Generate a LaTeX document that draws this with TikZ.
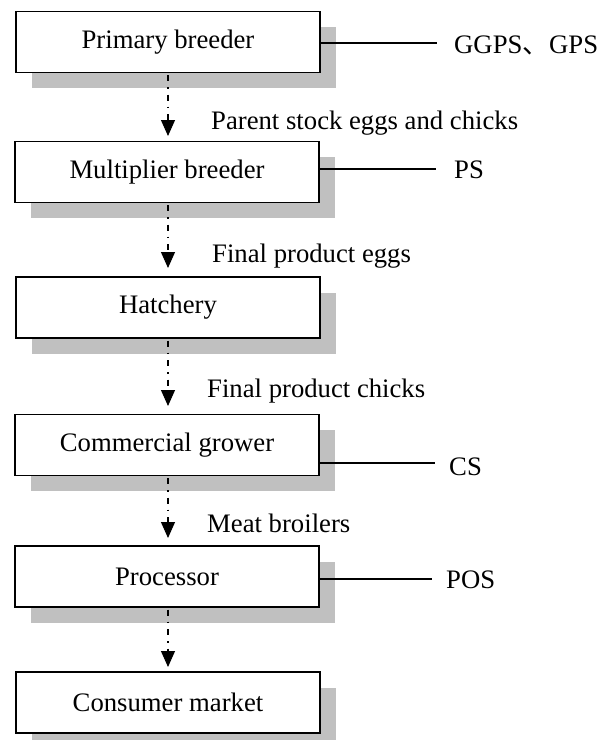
\documentclass[tikz,border=0pt]{standalone}
\usepackage{fontspec}
\setmainfont{Liberation Serif}
\newfontfamily\cjk{Noto Sans CJK SC}
\usetikzlibrary{arrows.meta,shadows}
\definecolor{shadowgray}{RGB}{192,192,192}
\begin{document}
\begin{tikzpicture}[x=1pt,y=-1pt,
  stagebox/.style={draw=black, line width=1.3pt, fill=white,
    minimum width=304pt, minimum height=61pt, inner sep=0pt,
    font=\fontsize{26.7}{30}\selectfont,
    drop shadow={shadow xshift=16pt, shadow yshift=-15.5pt, fill=shadowgray, opacity=1}},
  flowarrow/.style={line width=1.1pt, dash pattern=on 6pt off 6pt on 1.5pt off 6pt,
    -{Triangle[width=14pt,length=16pt]}, shorten <=2pt},
  sidelink/.style={line width=1.2pt},
  lbl/.style={anchor=west, inner sep=0pt, font=\fontsize{26.7}{30}\selectfont}
]
\useasboundingbox (0,0) rectangle (611,740);

\node[stagebox] (b1) at (168,42) {Primary breeder};
\node[stagebox] (b2) at (167,172) {Multiplier breeder};
\node[stagebox] (b3) at (168,307.5) {Hatchery};
\node[stagebox] (b4) at (167,445) {Commercial grower};
\node[stagebox] (b5) at (167,576.5) {Processor};
\node[stagebox] (b6) at (168,702.5) {Consumer market};

% flow arrows
\coordinate (t1) at (168,136);
\coordinate (t2) at (168,268);
\coordinate (t3) at (168,406);
\coordinate (t4) at (168,538);
\coordinate (t5) at (168,667);
\draw[flowarrow] (b1.south -| t1) -- (t1);
\draw[flowarrow] (b2.south -| t2) -- (t2);
\draw[flowarrow] (b3.south -| t3) -- (t3);
\draw[flowarrow] (b4.south -| t4) -- (t4);
\draw[flowarrow] (b5.south -| t5) -- (t5);

% flow labels
\node[lbl] (f1) at (211,123) {Parent stock eggs and chicks};
\node[lbl] (f2) at (212,256) {Final product eggs};
\node[lbl] (f3) at (207,391) {Final product chicks};
\node[lbl] (f4) at (207,523) {Meat broilers};

% side links
\coordinate (e1) at (437,43);
\coordinate (e2) at (436,169);
\coordinate (e4) at (435,463);
\coordinate (e5) at (432,579);
\draw[sidelink] (b1.east |- e1) -- (e1);
\draw[sidelink] (b2.east |- e2) -- (e2);
\draw[sidelink] (b4.east |- e4) -- (e4);
\draw[sidelink] (b5.east |- e5) -- (e5);
\node[lbl] (s1) at (454,45) {GGPS{\cjk 、}GPS};
\node[lbl] (s2) at (454,170) {PS};
\node[lbl] (s4) at (449,467) {CS};
\node[lbl] (s5) at (446,580) {POS};
\end{tikzpicture}
\end{document}
